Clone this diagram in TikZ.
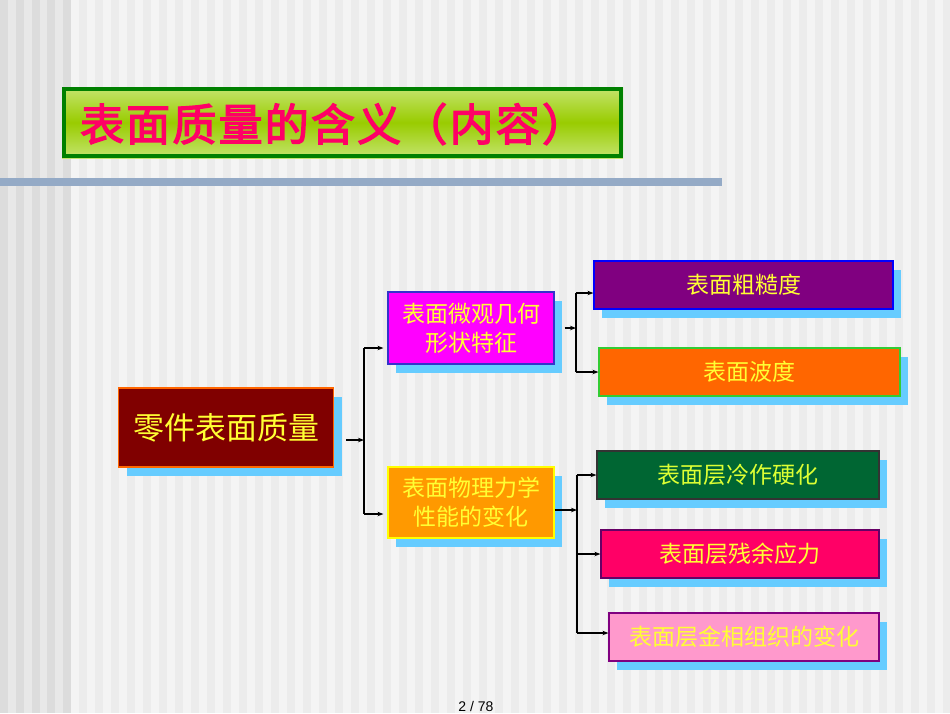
\documentclass[tikz,border=0pt]{standalone}
\usepackage{fontspec}
\newfontfamily\cjk{Noto Sans CJK SC}
\newfontfamily\cjkt[FakeBold=3,LetterSpace=5]{Noto Sans CJK SC}
\newfontfamily\numfont{Liberation Sans}
\usetikzlibrary{shadows,arrows.meta}
\definecolor{shadowblue}{HTML}{66CCFF}
\definecolor{txtyellow}{HTML}{FFFF33}
\definecolor{barblue}{HTML}{94AAC6}
\definecolor{titlepink}{HTML}{FF0066}
\tikzset{
  box/.style={draw, line width=1.2pt, inner sep=0pt, align=center, text=txtyellow,
    font=\cjk\fontsize{23}{29}\selectfont,
    general shadow={shadow xshift=8pt, shadow yshift=-9pt, fill=shadowblue}},
  conn/.style={line width=1.3pt, black},
  arr/.style={conn, -{Stealth[length=6pt,width=4.5pt]}}
}
\begin{document}
\begin{tikzpicture}[x=1pt,y=-1pt]
\useasboundingbox (0,0) rectangle (950,713);
\clip (0,0) rectangle (950,713);
% background stripes
\fill[color={rgb,255:red,232;green,232;blue,232}] (0,0) rectangle (71,713);
\foreach \k in {0,...,4} \fill[color={rgb,255:red,220;green,220;blue,220}] (\k*15.8,0) rectangle +(8,713);
\fill[color={rgb,255:red,236;green,236;blue,236}] (71,0) rectangle (950,713);
\foreach \k in {0,...,55} \fill[color={rgb,255:red,244;green,244;blue,244}] (71+\k*16,0) rectangle +(8,713);
% blue bar
\fill[barblue] (0,178) rectangle (722,186);
% title
\shade[top color={rgb,255:red,196;green,228;blue,110}, bottom color={rgb,255:red,196;green,228;blue,110}, middle color={rgb,255:red,153;green,204;blue,0}] (62,87) rectangle (623,158);
\draw[line width=4pt, color={rgb,255:red,0;green,128;blue,0}] (64,89) rectangle (621,156);
\node[text=titlepink, font=\cjkt\fontsize{44}{50}\selectfont, inner sep=0pt] (title) at (333,124) {表面质量的含义（内容）};
% nodes
\node[box, fill={rgb,255:red,128;green,0;blue,0}, draw={rgb,255:red,255;green,102;blue,0}, minimum width=215pt, minimum height=79pt, font=\cjk\fontsize{31}{36}\selectfont] (main) at (226,427.5) {零件表面质量};
\node[box, fill={rgb,255:red,255;green,0;blue,255}, draw={rgb,255:red,51;green,51;blue,204}, minimum width=166pt, minimum height=72pt] (geo) at (471,328) {表面微观几何\\形状特征};
\node[box, fill={rgb,255:red,255;green,153;blue,0}, draw={rgb,255:red,255;green,255;blue,0}, minimum width=166pt, minimum height=71pt] (phy) at (471,502.5) {表面物理力学\\性能的变化};
\node[box, fill={rgb,255:red,128;green,0;blue,128}, draw={rgb,255:red,0;green,0;blue,255}, minimum width=299pt, minimum height=48pt] (rough) at (743.5,285) {表面粗糙度};
\node[box, fill={rgb,255:red,255;green,102;blue,0}, draw={rgb,255:red,51;green,204;blue,51}, minimum width=301pt, minimum height=48pt] (wave) at (749.5,372) {表面波度};
\node[box, fill={rgb,255:red,0;green,102;blue,51}, draw={rgb,255:red,51;green,51;blue,51}, text={rgb,255:red,221;green,255;blue,51}, minimum width=282pt, minimum height=48pt] (hard) at (738,475) {表面层冷作硬化};
\node[box, fill={rgb,255:red,255;green,0;blue,102}, draw={rgb,255:red,102;green,0;blue,102}, minimum width=278pt, minimum height=48pt] (resid) at (740,554) {表面层残余应力};
\node[box, fill={rgb,255:red,255;green,153;blue,204}, draw={rgb,255:red,128;green,0;blue,128}, minimum width=270pt, minimum height=48pt] (metal) at (744,637) {表面层金相组织的变化};
% connectors
\coordinate (j1) at (364,440);
\coordinate (j2) at (576,328);
\coordinate (j3) at (577,510);
\coordinate (tgeo) at (388,348);
\coordinate (tphy) at (388,514);
\coordinate (trough) at (594,293);
\coordinate (tmetal) at (609,633);
\draw[arr] ([xshift=12pt]main.east |- j1) -- (j1);
\draw[conn] (j1 |- tgeo) -- (j1 |- tphy);
\draw[arr] (j1 |- tgeo) -- ([xshift=-4pt]geo.west |- tgeo);
\draw[arr] (j1 |- tphy) -- ([xshift=-4pt]phy.west |- tphy);
\draw[arr] ([xshift=10pt]geo.east) -- (j2);
\draw[conn] (j2 |- trough) -- (j2 |- wave.center);
\draw[arr] (j2 |- trough) -- (rough.west |- trough);
\draw[arr] (j2 |- wave) -- (wave.west);
\draw[arr] (phy.east |- j3) -- (j3);
\draw[conn] (j3 |- hard.center) -- (j3 |- tmetal);
\draw[arr] (j3 |- hard) -- (hard.west);
\draw[arr] (j3 |- resid) -- (resid.west);
\draw[arr] (j3 |- tmetal) -- (metal.west |- tmetal);
% page number
\node[font=\numfont\fontsize{14}{16}\selectfont, inner sep=0pt, anchor=base] (pg) at (476,711) {2 / 78};
\end{tikzpicture}
\end{document}
